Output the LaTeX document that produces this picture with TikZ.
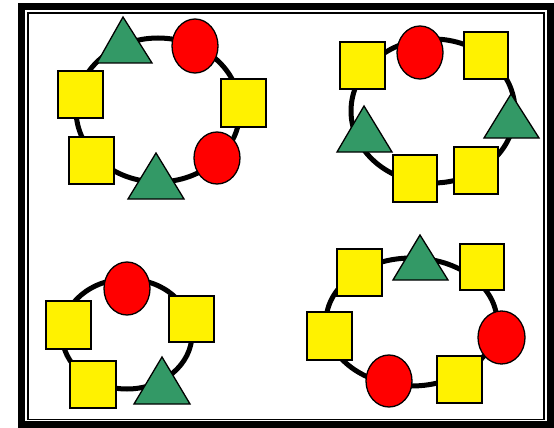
\documentclass[tikz,border=0pt]{standalone}
\begin{document}
\begin{tikzpicture}[x=1pt,y=-1pt,
  ring/.style={draw=black,line width=5pt},
  sq/.style={draw=black,fill=yellow,line width=1.3pt},
  rc/.style={draw=black,fill=red,line width=1.3pt},
  tri/.style={draw=black,fill={rgb,255:red,51;green,153;blue,102},line width=1.3pt,line join=miter},
  thickframe/.style={draw=black,line width=7pt},
  thinframe/.style={draw=black,line width=1.8pt}]
\useasboundingbox (0,0) rectangle (554,428);
\fill[white] (0,0) rectangle (554,428);
% frame
\draw[thickframe] (21.5,6.5) rectangle (550.5,424.5);
\draw[thinframe] (28,13) rectangle (544,419.5);
% group 1 (top left)
\draw[ring] (158,110) ellipse [x radius=82pt, y radius=72pt];
\draw[tri] (97,63) -- (123,17) -- (152,63) -- cycle;
\draw[rc] (195,46) ellipse [x radius=23pt, y radius=27pt];
\draw[sq] (58,71) rectangle (103,118);
\draw[sq] (221,79) rectangle (266,127);
\draw[rc] (217,158) ellipse [x radius=23pt, y radius=26pt];
\draw[sq] (69,137) rectangle (114,184);
\draw[tri] (128,199) -- (156,153) -- (184,199) -- cycle;
% group 2 (top right)
\draw[ring] (433,111) ellipse [x radius=82pt, y radius=72pt];
\draw[sq] (340,42) rectangle (385,89);
\draw[rc] (420,52.5) ellipse [x radius=23pt, y radius=26.5pt];
\draw[sq] (464,32) rectangle (508,79);
\draw[tri] (484,138) -- (511,94) -- (539,138) -- cycle;
\draw[tri] (337,152) -- (364,106) -- (392,152) -- cycle;
\draw[sq] (393,155) rectangle (437,202);
\draw[sq] (454,147) rectangle (498,194);
% group 3 (bottom left)
\draw[ring] (127,334) ellipse [x radius=65pt, y radius=55pt];
\draw[rc] (127,288.5) ellipse [x radius=23pt, y radius=26.5pt];
\draw[sq] (46,301) rectangle (91,349);
\draw[sq] (169,296) rectangle (214,342);
\draw[sq] (70,361) rectangle (116,408);
\draw[tri] (134,404) -- (162,357) -- (190,404) -- cycle;
% group 4 (bottom right)
\draw[ring] (411.5,322) ellipse [x radius=85.5pt, y radius=64pt];
\draw[sq] (337,249) rectangle (382,296);
\draw[tri] (393,280) -- (420,235) -- (448,280) -- cycle;
\draw[sq] (460,244) rectangle (504,290);
\draw[rc] (501.5,337.5) ellipse [x radius=23.5pt, y radius=26.5pt];
\draw[sq] (307,312) rectangle (352,360);
\draw[rc] (389,381) ellipse [x radius=23pt, y radius=26pt];
\draw[sq] (437,356) rectangle (482,403);
\end{tikzpicture}
\end{document}
